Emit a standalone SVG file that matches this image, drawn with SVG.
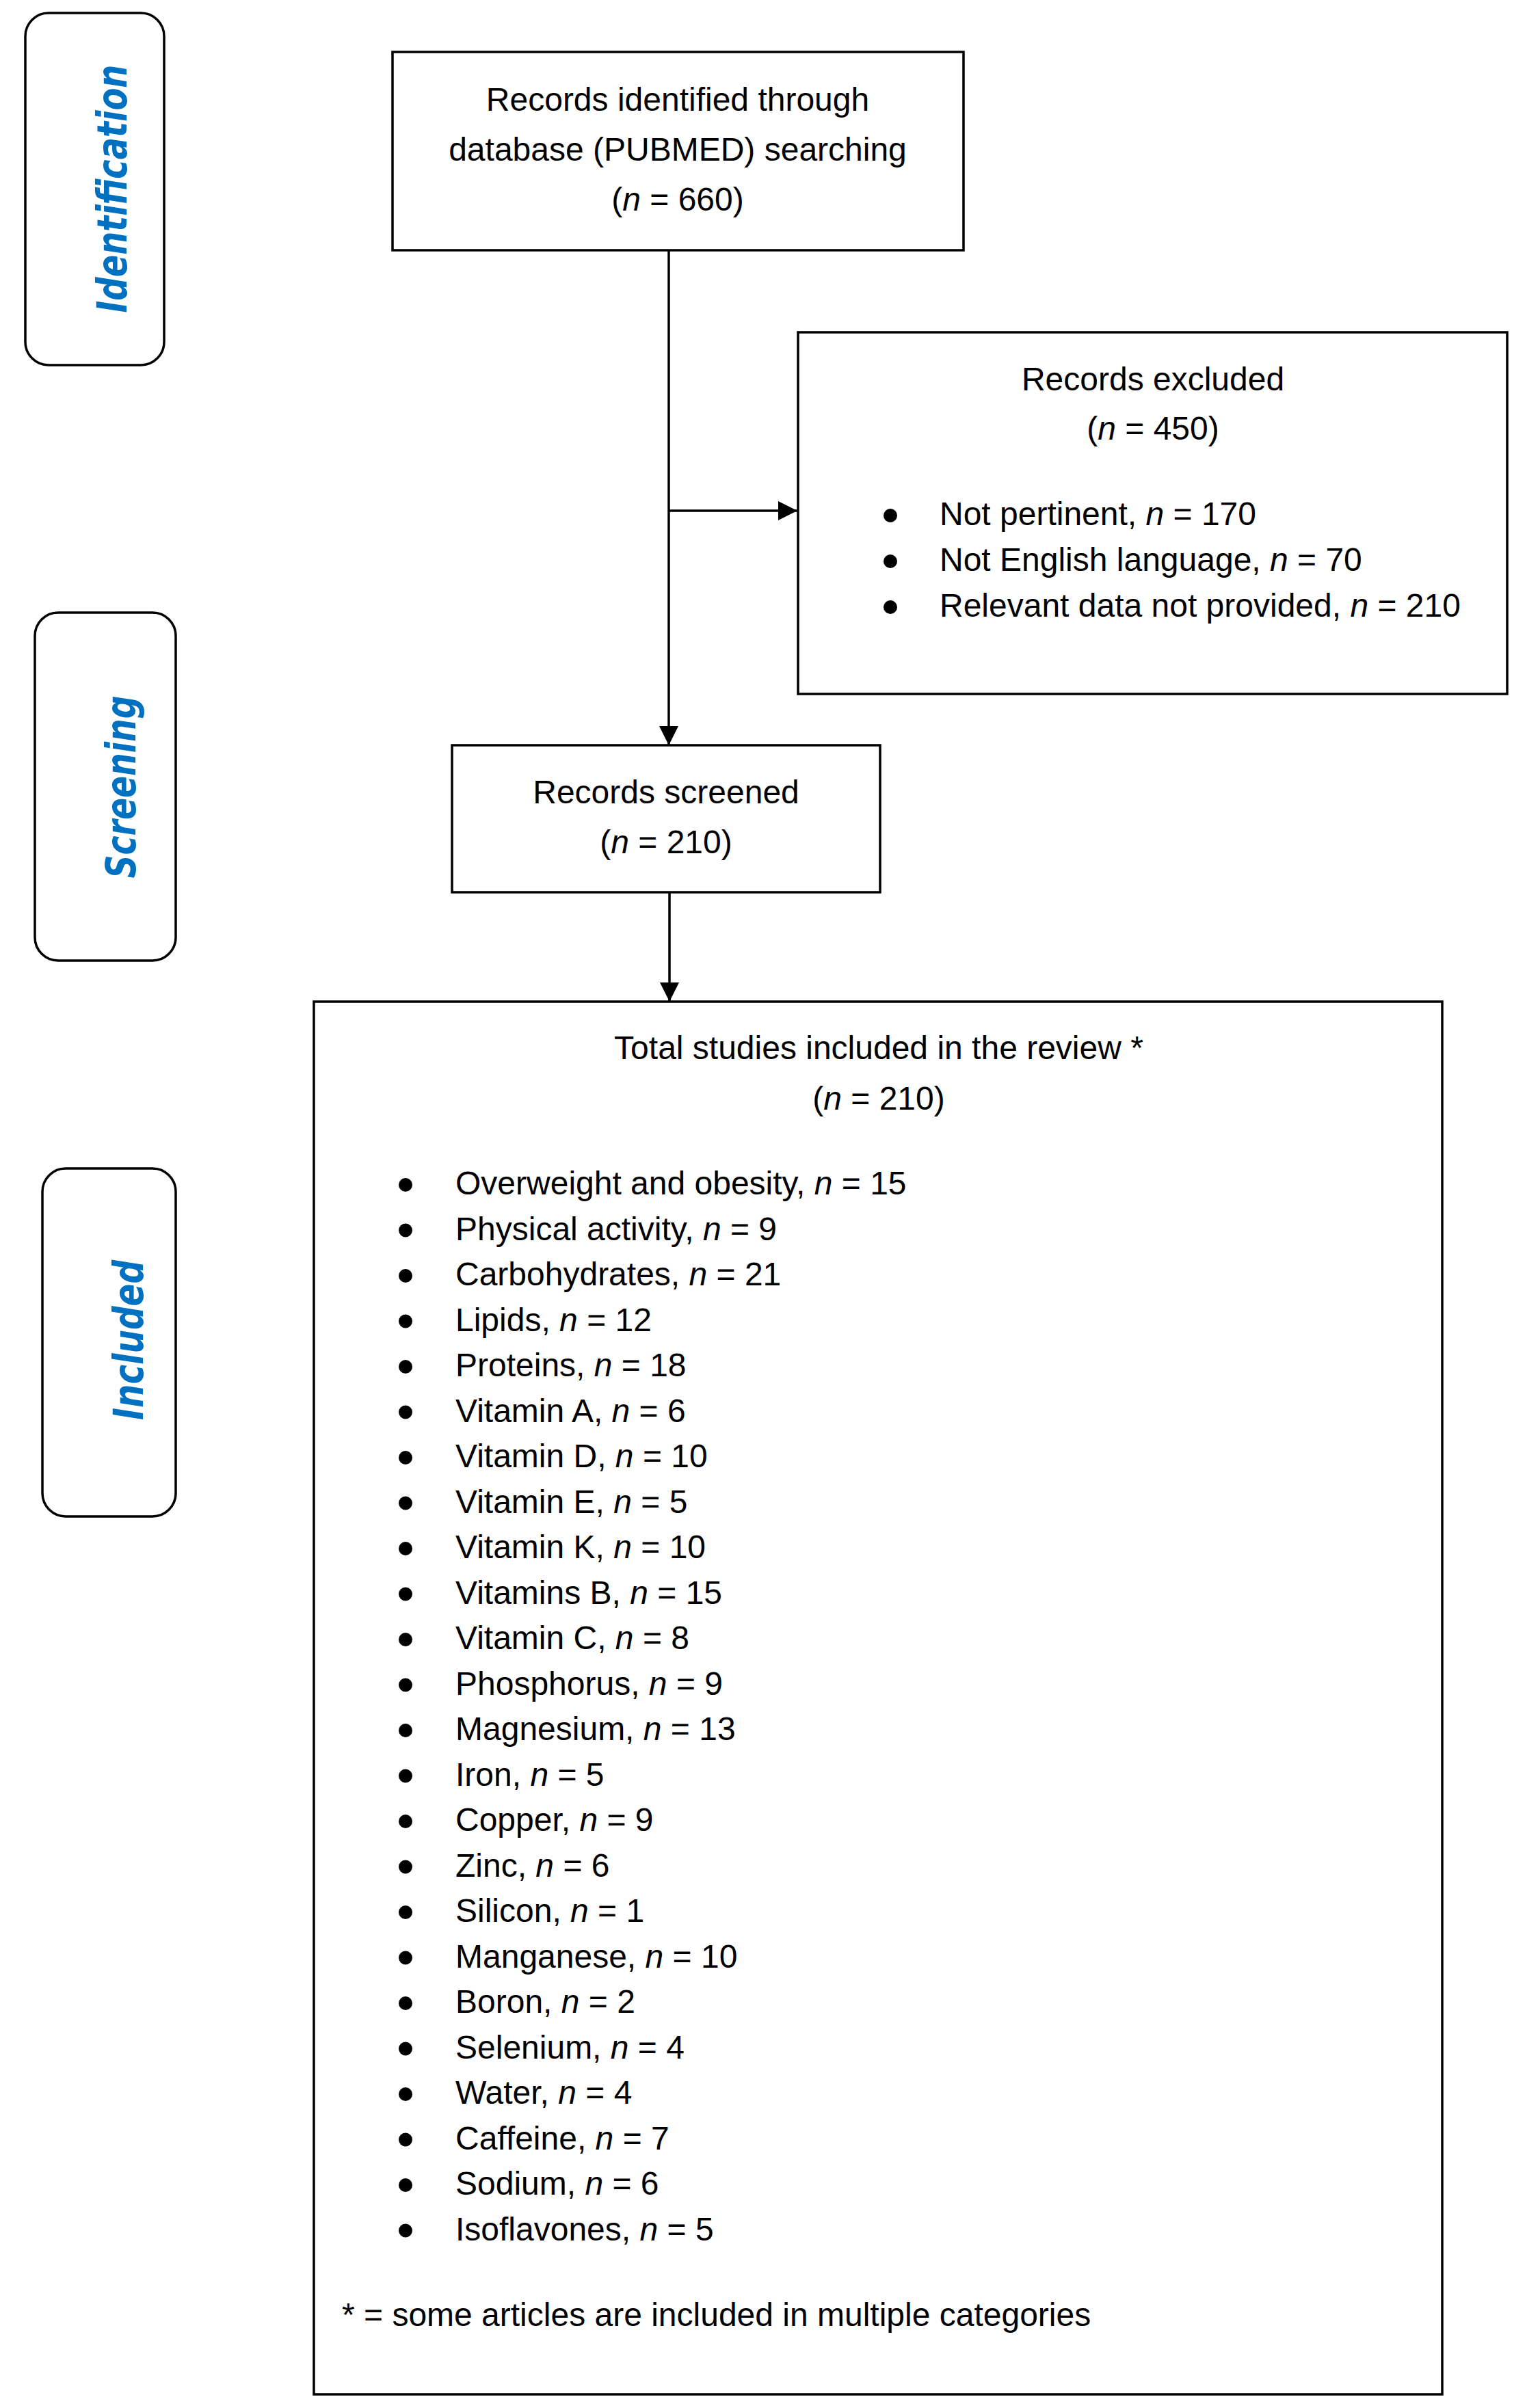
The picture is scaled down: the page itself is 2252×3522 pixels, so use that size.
<svg xmlns="http://www.w3.org/2000/svg" width="2252" height="3522" viewBox="0 0 2252 3522">
<style>
.box{fill:#fff;stroke:#000;stroke-width:3.5}
.stage{fill:#fff;stroke:#000;stroke-width:3.5}
.t{font-family:"Liberation Sans",Arial,sans-serif;font-size:48px;fill:#000}
.c{text-anchor:middle}
.i{font-style:italic}
.lab{font-family:"DejaVu Sans",Verdana,sans-serif;font-size:60px;font-weight:bold;font-style:italic;fill:#0070C0;text-anchor:middle}
.ln{fill:none;stroke:#000;stroke-width:3.5}
.dot{fill:#000}
</style>
<defs>
<marker id="ah" markerUnits="userSpaceOnUse" markerWidth="28" markerHeight="28" refX="28" refY="14" orient="auto">
<path d="M0,0 L28,14 L0,28 Z" fill="#000"/>
</marker>
</defs>
<rect width="2252" height="3522" fill="#fff"/>

<g id="stage-identification">
<rect class="stage" x="37" y="19" width="203" height="515" rx="34" ry="34"/>
<text class="lab" transform="translate(185,276) rotate(-90)" textLength="363" lengthAdjust="spacingAndGlyphs">Identification</text>
</g>
<g id="stage-screening">
<rect class="stage" x="51" y="896" width="206" height="509" rx="34" ry="34"/>
<text class="lab" transform="translate(198,1151) rotate(-90)" textLength="267" lengthAdjust="spacingAndGlyphs">Screening</text>
</g>
<g id="stage-included">
<rect class="stage" x="62" y="1709" width="195" height="509" rx="34" ry="34"/>
<text class="lab" transform="translate(209,1960) rotate(-90)" textLength="234" lengthAdjust="spacingAndGlyphs">Included</text>
</g>

<g id="connectors">
<line class="ln" x1="978" y1="366" x2="978" y2="1090" marker-end="url(#ah)"/>
<line class="ln" x1="978" y1="747" x2="1166" y2="747" marker-end="url(#ah)"/>
<line class="ln" x1="979" y1="1305" x2="979" y2="1465" marker-end="url(#ah)"/>
</g>

<g id="node-identified">
<rect class="box" x="574" y="76" width="835" height="290"/>
<text class="t c" x="991" y="162">Records identified through</text>
<text class="t c" x="991" y="235">database (PUBMED) searching</text>
<text class="t c" x="991" y="308">(<tspan class="i">n</tspan> = 660)</text>
</g>

<g id="node-excluded">
<rect class="box" x="1167" y="486" width="1037" height="529"/>
<text class="t c" x="1686" y="571">Records excluded</text>
<text class="t c" x="1686" y="643">(<tspan class="i">n</tspan> = 450)</text>
<circle class="dot" cx="1302" cy="754" r="10"/>
<circle class="dot" cx="1302" cy="821" r="10"/>
<circle class="dot" cx="1302" cy="888" r="10"/>
<text class="t" x="1374" y="768">Not pertinent, <tspan class="i">n</tspan> = 170</text>
<text class="t" x="1374" y="835">Not English language, <tspan class="i">n</tspan> = 70</text>
<text class="t" x="1374" y="902">Relevant data not provided, <tspan class="i">n</tspan> = 210</text>
</g>

<g id="node-screened">
<rect class="box" x="661" y="1090" width="626" height="215"/>
<text class="t c" x="974" y="1175">Records screened</text>
<text class="t c" x="974" y="1248">(<tspan class="i">n</tspan> = 210)</text>
</g>

<g id="node-included">
<rect class="box" x="459" y="1465" width="1650" height="2037"/>
<text class="t c" x="1285" y="1549">Total studies included in the review *</text>
<text class="t c" x="1285" y="1623">(<tspan class="i">n</tspan> = 210)</text>
<g class="dot">
<circle cx="593" cy="1733" r="10"/>
<circle cx="593" cy="1799.5" r="10"/>
<circle cx="593" cy="1866" r="10"/>
<circle cx="593" cy="1932.5" r="10"/>
<circle cx="593" cy="1999" r="10"/>
<circle cx="593" cy="2065.5" r="10"/>
<circle cx="593" cy="2132" r="10"/>
<circle cx="593" cy="2198.5" r="10"/>
<circle cx="593" cy="2265" r="10"/>
<circle cx="593" cy="2331.5" r="10"/>
<circle cx="593" cy="2398" r="10"/>
<circle cx="593" cy="2464.5" r="10"/>
<circle cx="593" cy="2531" r="10"/>
<circle cx="593" cy="2597.5" r="10"/>
<circle cx="593" cy="2664" r="10"/>
<circle cx="593" cy="2730.5" r="10"/>
<circle cx="593" cy="2797" r="10"/>
<circle cx="593" cy="2863.5" r="10"/>
<circle cx="593" cy="2930" r="10"/>
<circle cx="593" cy="2996.5" r="10"/>
<circle cx="593" cy="3063" r="10"/>
<circle cx="593" cy="3129.5" r="10"/>
<circle cx="593" cy="3196" r="10"/>
<circle cx="593" cy="3262.5" r="10"/>
</g>
<text class="t" x="666" y="1747">Overweight and obesity, <tspan class="i">n</tspan> = 15</text>
<text class="t" x="666" y="1813.5">Physical activity, <tspan class="i">n</tspan> = 9</text>
<text class="t" x="666" y="1880">Carbohydrates, <tspan class="i">n</tspan> = 21</text>
<text class="t" x="666" y="1946.5">Lipids, <tspan class="i">n</tspan> = 12</text>
<text class="t" x="666" y="2013">Proteins, <tspan class="i">n</tspan> = 18</text>
<text class="t" x="666" y="2079.5">Vitamin A, <tspan class="i">n</tspan> = 6</text>
<text class="t" x="666" y="2146">Vitamin D, <tspan class="i">n</tspan> = 10</text>
<text class="t" x="666" y="2212.5">Vitamin E, <tspan class="i">n</tspan> = 5</text>
<text class="t" x="666" y="2279">Vitamin K, <tspan class="i">n</tspan> = 10</text>
<text class="t" x="666" y="2345.5">Vitamins B, <tspan class="i">n</tspan> = 15</text>
<text class="t" x="666" y="2412">Vitamin C, <tspan class="i">n</tspan> = 8</text>
<text class="t" x="666" y="2478.5">Phosphorus, <tspan class="i">n</tspan> = 9</text>
<text class="t" x="666" y="2545">Magnesium, <tspan class="i">n</tspan> = 13</text>
<text class="t" x="666" y="2611.5">Iron, <tspan class="i">n</tspan> = 5</text>
<text class="t" x="666" y="2678">Copper, <tspan class="i">n</tspan> = 9</text>
<text class="t" x="666" y="2744.5">Zinc, <tspan class="i">n</tspan> = 6</text>
<text class="t" x="666" y="2811">Silicon, <tspan class="i">n</tspan> = 1</text>
<text class="t" x="666" y="2877.5">Manganese, <tspan class="i">n</tspan> = 10</text>
<text class="t" x="666" y="2944">Boron, <tspan class="i">n</tspan> = 2</text>
<text class="t" x="666" y="3010.5">Selenium, <tspan class="i">n</tspan> = 4</text>
<text class="t" x="666" y="3077">Water, <tspan class="i">n</tspan> = 4</text>
<text class="t" x="666" y="3143.5">Caffeine, <tspan class="i">n</tspan> = 7</text>
<text class="t" x="666" y="3210">Sodium, <tspan class="i">n</tspan> = 6</text>
<text class="t" x="666" y="3276.5">Isoflavones, <tspan class="i">n</tspan> = 5</text>
<text class="t" x="500" y="3402">* = some articles are included in multiple categories</text>
</g>
</svg>
